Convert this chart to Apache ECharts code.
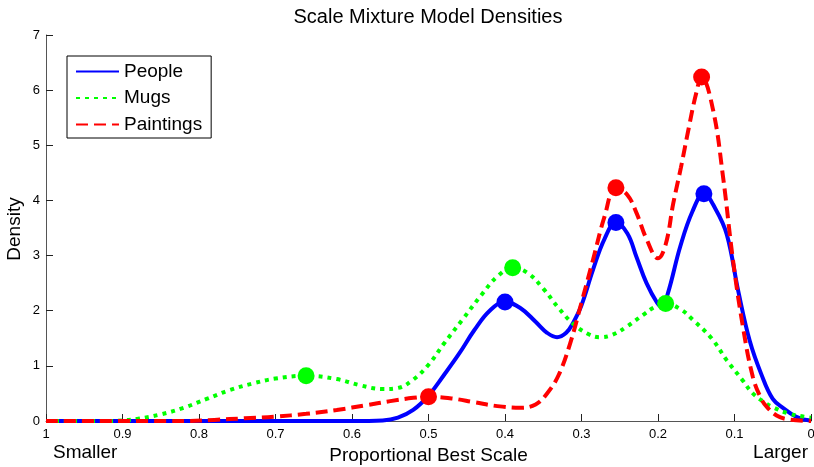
<!DOCTYPE html>
<html>
<head>
<meta charset="utf-8">
<script src="https://cdn.jsdelivr.net/npm/echarts@6/dist/echarts.min.js"></script>
<style>
  html, body { margin: 0; padding: 0; background: #fff; }
  #chart { width: 814px; height: 467px; }
</style>
</head>
<body>
<div id="chart"></div>
<script>
// 曲线数据
const peopleX = [1.0, 0.6, 0.56, 0.54, 0.52, 0.5, 0.48, 0.46, 0.44, 0.42, 0.4, 0.38, 0.36, 0.345, 0.332, 0.32, 0.311, 0.3, 0.285, 0.27, 0.255, 0.24, 0.228, 0.215, 0.201, 0.195, 0.187, 0.171, 0.155, 0.14, 0.125, 0.11, 0.095, 0.08, 0.065, 0.05, 0.035, 0.02, 0.01, 0.0];
const peopleY = [0, 0, 0.01, 0.06, 0.2, 0.46, 0.83, 1.22, 1.65, 2.0, 2.16, 2.05, 1.8, 1.6, 1.52, 1.6, 1.78, 2.1, 2.74, 3.3, 3.6, 3.4, 2.97, 2.5, 2.14, 2.07, 2.32, 3.16, 3.8, 4.12, 3.85, 3.38, 2.35, 1.45, 0.85, 0.4, 0.22, 0.08, 0.03, 0.01];

const mugsX = [1.0, 0.92, 0.9, 0.88, 0.85, 0.82, 0.79, 0.76, 0.73, 0.7, 0.66, 0.62, 0.59, 0.56, 0.54, 0.52, 0.5, 0.48, 0.455, 0.43, 0.41, 0.39, 0.37, 0.35, 0.33, 0.31, 0.29, 0.276, 0.26, 0.24, 0.22, 0.205, 0.19, 0.17, 0.154, 0.13, 0.11, 0.09, 0.076, 0.06, 0.05, 0.03, 0.01, 0.0];
const mugsY = [0, 0, 0.01, 0.04, 0.12, 0.24, 0.4, 0.56, 0.68, 0.77, 0.82, 0.76, 0.65, 0.58, 0.6, 0.75, 1.02, 1.4, 1.85, 2.3, 2.62, 2.78, 2.68, 2.4, 2.05, 1.75, 1.57, 1.52, 1.56, 1.72, 1.92, 2.06, 2.13, 2.02, 1.83, 1.5, 1.1, 0.75, 0.5, 0.33, 0.25, 0.14, 0.08, 0.06];

const paintX = [1.0, 0.82, 0.78, 0.74, 0.7, 0.66, 0.62, 0.58, 0.55, 0.52, 0.5, 0.47, 0.44, 0.41, 0.38, 0.36, 0.345, 0.33, 0.315, 0.3, 0.285, 0.27, 0.255, 0.24, 0.228, 0.215, 0.2, 0.19, 0.18, 0.17, 0.16, 0.15, 0.143, 0.128, 0.115, 0.102, 0.089, 0.076, 0.065, 0.058, 0.045, 0.03, 0.0];
const paintY = [0, 0, 0.02, 0.05, 0.08, 0.13, 0.2, 0.29, 0.36, 0.42, 0.44, 0.41, 0.34, 0.27, 0.24, 0.3, 0.5, 0.83, 1.4, 2.15, 2.92, 3.7, 4.23, 4.1, 3.77, 3.3, 2.95, 3.2, 3.95, 4.6, 5.3, 5.95, 6.24, 5.64, 4.43, 2.92, 1.71, 0.8, 0.4, 0.26, 0.1, 0.03, 0];

// 峰值标记点
const peoplePeakX = [0.4, 0.255, 0.14];
const peoplePeakY = [2.16, 3.6, 4.12];
const mugsPeakX = [0.66, 0.39, 0.19];
const mugsPeakY = [0.82, 2.78, 2.13];
const paintPeakX = [0.5, 0.255, 0.143];
const paintPeakY = [0.44, 4.23, 6.24];

const seriesNames = ['People', 'Mugs', 'Paintings'];
const FONT = "'Liberation Sans', Arial, sans-serif";

function pairs(xs, ys) { return xs.map((x, i) => [x, ys[i]]); }

const chart = echarts.init(document.getElementById('chart'));

function lineSeries(name, xs, ys, color, type) {
  return {
    name, type: 'line', smooth: 0.4, symbol: 'none', silent: true,
    data: pairs(xs, ys),
    lineStyle: { color, width: 4, type, cap: 'butt' },
    itemStyle: { color },
  };
}

function peakSeries(name, xs, ys, color) {
  return {
    name: name + ' peaks', type: 'scatter', symbol: 'circle', symbolSize: 17, z: 5,
    data: pairs(xs, ys),
    itemStyle: { color, opacity: 1 },
  };
}

chart.setOption({
  animation: false,
  grid: { left: 46, right: 3, top: 35, bottom: 46, outerBoundsMode: 'none', containLabel: false },
  legend: {
    data: seriesNames,
    orient: 'vertical',
    left: 67, top: 56,
    padding: [6, 9, 4, 8],
    itemWidth: 43, itemHeight: 19, itemGap: 7.5,
    itemStyle: { opacity: 0 },
    borderColor: '#000', borderWidth: 1,
    textStyle: { fontSize: 19, color: '#000', fontFamily: FONT },
  },
  xAxis: {
    type: 'value', inverse: true, min: 0, max: 1, interval: 0.1,
    name: 'Proportional Best Scale', nameLocation: 'middle', nameGap: 24,
    nameTextStyle: { fontSize: 19, color: '#000', fontFamily: FONT },
    axisLine: { onZero: false, lineStyle: { color: '#555', width: 1 } },
    axisTick: { inside: true, length: 7, lineStyle: { color: '#222' } },
    axisLabel: { fontSize: 13, color: '#000', margin: 7, fontFamily: FONT },
    splitLine: { show: false },
  },
  yAxis: {
    type: 'value', min: 0, max: 7, interval: 1,
    axisLine: { show: true, onZero: false, lineStyle: { color: '#555', width: 1 } },
    axisTick: { show: true, inside: true, length: 7, lineStyle: { color: '#222' } },
    axisLabel: { fontSize: 13, color: '#000', margin: 6, fontFamily: FONT },
    splitLine: { show: false },
  },
  graphic: [
    { type: 'text', x: 428, y: 7, style: { text: 'Scale Mixture Model Densities', fontSize: 20, fill: '#000', fontFamily: FONT, align: 'center', textAlign: 'center' } },
    { type: 'text', x: 15, y: 229, rotation: Math.PI / 2, style: { text: 'Density', fontSize: 19, fill: '#000', fontFamily: FONT, align: 'center', verticalAlign: 'middle' } },
    { type: 'text', left: 53, top: 443, style: { text: 'Smaller', fontSize: 19, fill: '#000', fontFamily: FONT } },
    { type: 'text', right: 6, top: 443, style: { text: 'Larger', fontSize: 19, fill: '#000', fontFamily: FONT } },
  ],
  series: [
    lineSeries('People', peopleX, peopleY, '#0000ff', 'solid'),
    lineSeries('Mugs', mugsX, mugsY, '#00ff00', [4, 5]),
    lineSeries('Paintings', paintX, paintY, '#ff0000', [12, 6]),
    peakSeries('People', peoplePeakX, peoplePeakY, '#0000ff'),
    peakSeries('Mugs', mugsPeakX, mugsPeakY, '#00ff00'),
    peakSeries('Paintings', paintPeakX, paintPeakY, '#ff0000'),
  ],
});
</script>
</body>
</html>
